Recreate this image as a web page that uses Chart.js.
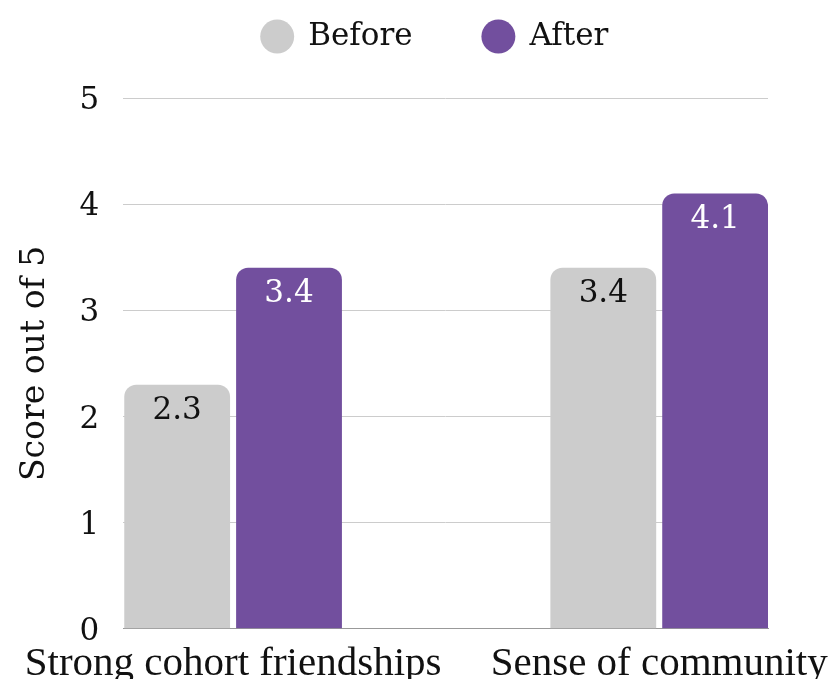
<!DOCTYPE html>
<html>
<head>
<meta charset="utf-8">
<script src="https://cdn.jsdelivr.net/npm/chart.js@4"></script>
<style>
  html, body { margin: 0; padding: 0; background: #fff; }
  #wrap { width: 830px; height: 679px; }
</style>
</head>
<body>
<div id="wrap"><canvas id="chart"></canvas></div>
<script>
const categories = ['Strong cohort friendships', 'Sense of community'];
const beforeValues = [2.3, 3.4];
const afterValues = [3.4, 4.1];
const seriesNames = ['Before', 'After'];
const yTicks = [0, 1, 2, 3, 4, 5];

const serif = "'DejaVu Serif', serif";

// draws the value near the top of each bar
const valueLabels = {
    id: 'valueLabels',
    afterDatasetsDraw(chart) {
        const ctx = chart.ctx;
        ctx.save();
        ctx.font = '31px ' + serif;
        ctx.textAlign = 'center';
        ctx.textBaseline = 'middle';
        chart.data.datasets.forEach((ds, i) => {
            const meta = chart.getDatasetMeta(i);
            meta.data.forEach((bar, j) => {
                ctx.fillStyle = ds.labelColor;
                ctx.fillText(ds.data[j].y.toFixed(1), bar.x, bar.y + 26);
            });
        });
        ctx.restore();
    }
};

// more room under the legend, and nudge it right
const legendGap = {
    id: 'legendGap',
    beforeInit(chart) {
        const fit = chart.legend.fit;
        chart.legend.fit = function () {
            fit.bind(chart.legend)();
            this.height += 36;
        };
    },
    afterLayout(chart) {
        chart.legend.left += 24;
    }
};

new Chart(document.getElementById('chart'), {
    type: 'bar',
    data: {
        datasets: [
            {
                label: seriesNames[0],
                data: beforeValues.map((v, i) => ({ x: i, y: v })),
                backgroundColor: '#cccccc',
                labelColor: '#111111',
                borderRadius: { topLeft: 12, topRight: 12 },
                borderSkipped: false
            },
            {
                label: seriesNames[1],
                data: afterValues.map((v, i) => ({ x: i, y: v })),
                backgroundColor: '#724f9e',
                labelColor: '#ffffff',
                borderRadius: { topLeft: 12, topRight: 12 },
                borderSkipped: false
            }
        ]
    },
    options: {
        responsive: true,
        maintainAspectRatio: false,
        animation: false,
        categoryPercentage: 0.525,
        barPercentage: 0.946,
        layout: { padding: { left: 16, right: 0, top: 0, bottom: -21 } },
        plugins: {
            tooltip: { enabled: false },
            legend: {
                position: 'top',
                labels: {
                    usePointStyle: true,
                    pointStyle: 'circle',
                    boxHeight: 24,
                    boxWidth: 31,
                    padding: 21,
                    color: '#111',
                    font: { family: serif, size: 31 },
                    generateLabels: (chart) => {
                        const items = Chart.defaults.plugins.legend.labels.generateLabels(chart);
                        items[0].text = items[0].text + '     ';
                        return items;
                    }
                }
            }
        },
        scales: {
            x: {
                type: 'linear',
                offset: false,
                min: -0.2576,
                max: 1.2553,
                afterBuildTicks: (axis) => {
                    axis.ticks = categories.map((c, i) => ({ value: i }));
                },
                afterFit: (axis) => {
                    axis.paddingRight = 62;
                },
                grid: { display: false, drawTicks: false },
                border: { display: true, color: '#999' },
                ticks: {
                    padding: 11,
                    autoSkip: false,
                    maxRotation: 0,
                    color: '#111',
                    font: { family: "'Liberation Serif', serif", size: 41 },
                    callback: (v) => categories[v]
                }
            },
            y: {
                min: 0,
                max: 5,
                afterBuildTicks: (axis) => {
                    axis.ticks = yTicks.map(v => ({ value: v }));
                },
                grid: {
                    color: (c) => c.tick && c.tick.value === 0 ? '#999' : '#cccccc',
                    drawTicks: false
                },
                border: { display: false },
                ticks: {
                    padding: 24,
                    labelOffset: 3,
                    color: '#111',
                    font: { family: serif, size: 31 }
                },
                title: {
                    display: true,
                    text: 'Score out of 5',
                    color: '#111',
                    padding: { top: 0, bottom: 0 },
                    font: { family: serif, size: 33 }
                }
            }
        }
    },
    plugins: [valueLabels, legendGap]
});
</script>
</body>
</html>
